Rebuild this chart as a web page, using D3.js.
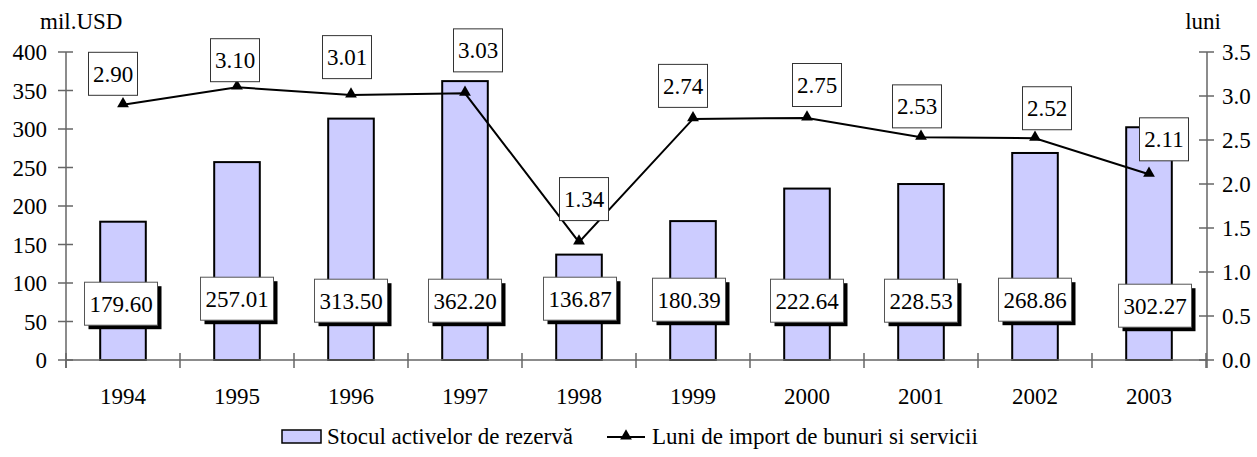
<!DOCTYPE html>
<html>
<head>
<meta charset="utf-8">
<script src="https://cdn.jsdelivr.net/npm/d3@7"></script>
<style>
  body { margin: 0; background: #fff; }
</style>
</head>
<body>
<svg id="chart" width="1257" height="457" font-family="'Liberation Serif', 'Times New Roman', Times, 'DejaVu Serif', serif" font-size="23"></svg>
<script>
// data
var years = ["1994","1995","1996","1997","1998","1999","2000","2001","2002","2003"];
var reserves = [179.60, 257.01, 313.50, 362.20, 136.87, 180.39, 222.64, 228.53, 268.86, 302.27];
var months = [2.90, 3.10, 3.01, 3.03, 1.34, 2.74, 2.75, 2.53, 2.52, 2.11];
var leftTicks = [0, 50, 100, 150, 200, 250, 300, 350, 400];
var rightTicks = [0, 0.5, 1.0, 1.5, 2.0, 2.5, 3.0, 3.5];
var barName = "Stocul activelor de rezervă";
var lineName = "Luni de import de bunuri si servicii";

// label box nudges (layout only)
var lineLabelShift = [[-10,-31],[-2,-27],[-4,-38],[13,-43],[5,-43],[-10,-33],[10,-33],[-4,-31],[12,-30],[15,-35]];
var barLabelShift = [[-2,3],[0,-2],[0,0],[0,0],[1,-2],[-4,-1],[0,0],[0,0],[0,-1],[6,5]];

var svg = d3.select("#chart");
var m = {left: 66, right: 1206, top: 52, bottom: 360};

var x = d3.scaleBand().domain(years).range([m.left, m.right]).padding(0);
var yL = d3.scaleLinear().domain([0, 400]).range([m.bottom, m.top]);
var yR = d3.scaleLinear().domain([0, 3.5]).range([m.bottom, m.top]);
var axisColor = "#666";

// bars
var bw = x.bandwidth() * 0.4;
svg.append("g").selectAll("rect").data(reserves).enter().append("rect")
  .attr("x", function(d,i){ return x(years[i]) + x.bandwidth()/2 - bw/2; })
  .attr("y", function(d){ return yL(d); })
  .attr("width", bw)
  .attr("height", function(d){ return yL(0) - yL(d); })
  .attr("fill", "#ccccff").attr("stroke", "#000").attr("stroke-width", 2);

// axes
var gL = svg.append("g");
gL.append("line").attr("x1", m.left).attr("x2", m.left).attr("y1", m.top).attr("y2", m.bottom+8).attr("stroke", axisColor).attr("stroke-width", 1.5);
gL.selectAll(".t").data(leftTicks).enter().append("line")
  .attr("x1", m.left-8).attr("x2", m.left+7)
  .attr("y1", function(d){ return yL(d); }).attr("y2", function(d){ return yL(d); })
  .attr("stroke", axisColor).attr("stroke-width", 1.5);
gL.selectAll("text").data(leftTicks).enter().append("text")
  .attr("x", 47).attr("y", function(d){ return yL(d) + 8; })
  .attr("text-anchor", "end").text(function(d){ return d; });

var gR = svg.append("g");
gR.append("line").attr("x1", m.right+1).attr("x2", m.right+1).attr("y1", m.top).attr("y2", m.bottom+8).attr("stroke", axisColor).attr("stroke-width", 1.5);
gR.selectAll(".t").data(rightTicks).enter().append("line")
  .attr("x1", m.right-7).attr("x2", m.right+8)
  .attr("y1", function(d){ return yR(d); }).attr("y2", function(d){ return yR(d); })
  .attr("stroke", axisColor).attr("stroke-width", 1.5);
gR.selectAll("text").data(rightTicks).enter().append("text")
  .attr("x", 1222).attr("y", function(d){ return yR(d) + 8; })
  .text(function(d){ return d3.format(".1f")(d); });

var gX = svg.append("g");
gX.append("line").attr("x1", m.left).attr("x2", m.right+1).attr("y1", m.bottom).attr("y2", m.bottom).attr("stroke", axisColor).attr("stroke-width", 1.5);
gX.selectAll(".t").data(years.concat(["end"])).enter().append("line")
  .attr("x1", function(d,i){ return m.left + i*x.bandwidth(); })
  .attr("x2", function(d,i){ return m.left + i*x.bandwidth(); })
  .attr("y1", m.bottom-7).attr("y2", m.bottom+8)
  .attr("stroke", axisColor).attr("stroke-width", 1.5);
gX.selectAll("text").data(years).enter().append("text")
  .attr("x", function(d){ return x(d) + x.bandwidth()/2; })
  .attr("y", 404).attr("text-anchor", "middle").text(function(d){ return d; });

svg.append("text").attr("x", 40).attr("y", 29).text("mil.USD");
svg.append("text").attr("x", 1221).attr("y", 29).attr("text-anchor", "end").text("luni");

// line
var cx = function(i){ return x(years[i]) + x.bandwidth()/2; };
var line = d3.line().x(function(d,i){ return cx(i); }).y(function(d){ return yR(d); });
svg.append("path").datum(months).attr("d", line)
  .attr("fill", "none").attr("stroke", "#000").attr("stroke-width", 2);
var tri = d3.symbol().type(d3.symbolTriangle).size(60);
svg.append("g").selectAll("path").data(months).enter().append("path")
  .attr("d", tri)
  .attr("transform", function(d,i){ return "translate(" + cx(i) + "," + (yR(d) - 1) + ")"; })
  .attr("fill", "#000");

// line labels
var lw = 49, lh = 43;
var ll = svg.append("g").selectAll("g").data(months).enter().append("g")
  .attr("transform", function(d,i){
    return "translate(" + (cx(i) + lineLabelShift[i][0]) + "," + (yR(d) + lineLabelShift[i][1]) + ")";
  });
ll.append("rect").attr("x", -lw/2).attr("y", -lh/2).attr("width", lw).attr("height", lh)
  .attr("fill", "#fff").attr("stroke", "#333").attr("stroke-width", 1);
ll.append("text").attr("text-anchor", "middle").attr("y", 8).text(function(d){ return d3.format(".2f")(d); });

// bar labels with shadow
var bwl = 73, bhl = 43, barLabelY = yL(77);
var bl = svg.append("g").selectAll("g").data(reserves).enter().append("g")
  .attr("transform", function(d,i){
    return "translate(" + (cx(i) + barLabelShift[i][0]) + "," + (barLabelY + barLabelShift[i][1]) + ")";
  });
bl.append("rect").attr("x", -bwl/2 + 4).attr("y", -bhl/2 + 4).attr("width", bwl).attr("height", bhl).attr("fill", "#000");
bl.append("rect").attr("x", -bwl/2).attr("y", -bhl/2).attr("width", bwl).attr("height", bhl)
  .attr("fill", "#fff").attr("stroke", "#555").attr("stroke-width", 1);
bl.append("text").attr("text-anchor", "middle").attr("y", 8).text(function(d){ return d3.format(".2f")(d); });

// legend
var lg = svg.append("g");
lg.append("rect").attr("x", 282).attr("y", 430).attr("width", 39).attr("height", 13)
  .attr("fill", "#ccccff").attr("stroke", "#000").attr("stroke-width", 1.5);
lg.append("text").attr("x", 327).attr("y", 444).text(barName);
lg.append("line").attr("x1", 607).attr("x2", 645).attr("y1", 437).attr("y2", 437).attr("stroke", "#000").attr("stroke-width", 2);
lg.append("path").attr("d", tri).attr("transform", "translate(626,436)").attr("fill", "#000");
lg.append("text").attr("x", 652).attr("y", 444).text(lineName);
</script>
</body>
</html>
